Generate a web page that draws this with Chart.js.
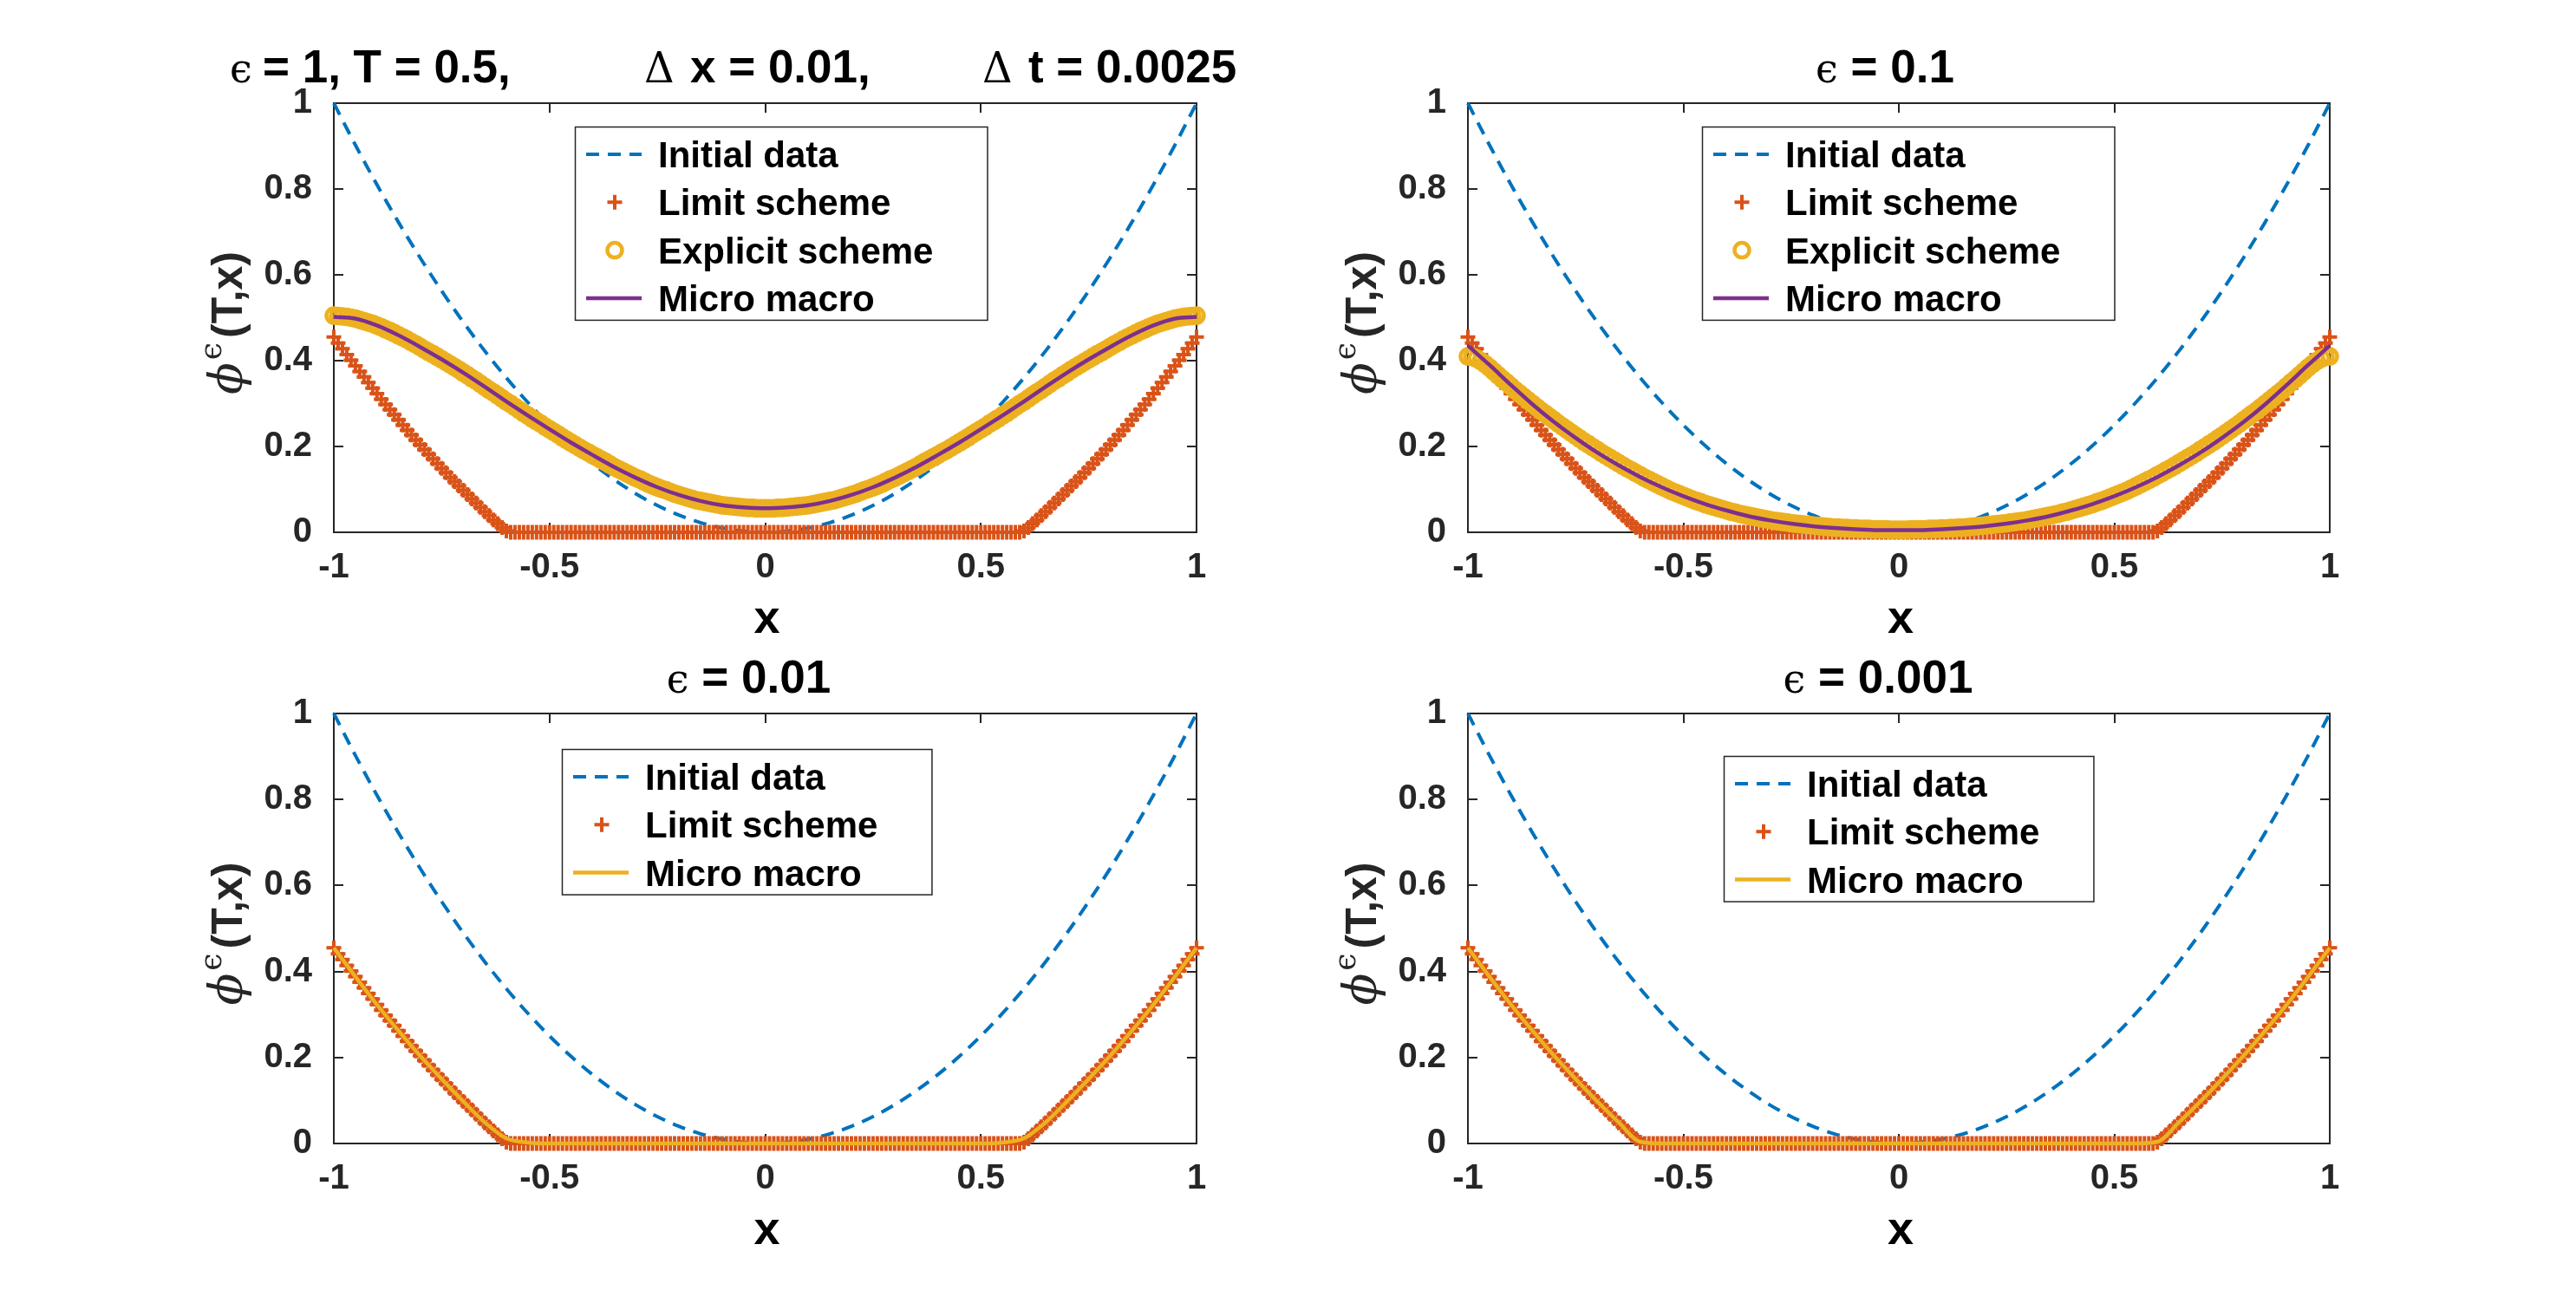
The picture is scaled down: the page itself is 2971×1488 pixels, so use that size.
<!DOCTYPE html>
<html>
<head>
<meta charset="utf-8">
<script src="https://cdn.jsdelivr.net/npm/chart.js@4.4.1/dist/chart.umd.min.js"></script>
<style>
html,body{margin:0;padding:0;background:#fff;}
#page{position:relative;width:2971px;height:1488px;background:#fff;overflow:hidden;}
.cell{position:absolute;}
.cell canvas{display:block;}
</style>
</head>
<body>
<div id="page">
  <div class="cell" style="left:0px;top:0px;"><canvas id="c1" width="1486" height="744" style="width:1486px;height:744px"></canvas></div>
  <div class="cell" style="left:1486px;top:0px;"><canvas id="c2" width="1485" height="744" style="width:1485px;height:744px"></canvas></div>
  <div class="cell" style="left:0px;top:744px;"><canvas id="c3" width="1486" height="744" style="width:1486px;height:744px"></canvas></div>
  <div class="cell" style="left:1486px;top:744px;"><canvas id="c4" width="1485" height="744" style="width:1485px;height:744px"></canvas></div>
</div>
<script>
// ---------------- DATA ----------------
// grid of the scheme outputs (dx = 0.01)
const xMarkers = [
 -1,-0.99,-0.98,-0.97,-0.96,-0.95,-0.94,-0.93,-0.92,-0.91,
 -0.9,-0.89,-0.88,-0.87,-0.86,-0.85,-0.84,-0.83,-0.82,-0.81,
 -0.8,-0.79,-0.78,-0.77,-0.76,-0.75,-0.74,-0.73,-0.72,-0.71,
 -0.7,-0.69,-0.68,-0.67,-0.66,-0.65,-0.64,-0.63,-0.62,-0.61,
 -0.6,-0.59,-0.58,-0.57,-0.56,-0.55,-0.54,-0.53,-0.52,-0.51,
 -0.5,-0.49,-0.48,-0.47,-0.46,-0.45,-0.44,-0.43,-0.42,-0.41,
 -0.4,-0.39,-0.38,-0.37,-0.36,-0.35,-0.34,-0.33,-0.32,-0.31,
 -0.3,-0.29,-0.28,-0.27,-0.26,-0.25,-0.24,-0.23,-0.22,-0.21,
 -0.2,-0.19,-0.18,-0.17,-0.16,-0.15,-0.14,-0.13,-0.12,-0.11,
 -0.1,-0.09,-0.08,-0.07,-0.06,-0.05,-0.04,-0.03,-0.02,-0.01,
 0,
 0.01,0.02,0.03,0.04,0.05,0.06,0.07,0.08,0.09,0.1,
 0.11,0.12,0.13,0.14,0.15,0.16,0.17,0.18,0.19,0.2,
 0.21,0.22,0.23,0.24,0.25,0.26,0.27,0.28,0.29,0.3,
 0.31,0.32,0.33,0.34,0.35,0.36,0.37,0.38,0.39,0.4,
 0.41,0.42,0.43,0.44,0.45,0.46,0.47,0.48,0.49,0.5,
 0.51,0.52,0.53,0.54,0.55,0.56,0.57,0.58,0.59,0.6,
 0.61,0.62,0.63,0.64,0.65,0.66,0.67,0.68,0.69,0.7,
 0.71,0.72,0.73,0.74,0.75,0.76,0.77,0.78,0.79,0.8,
 0.81,0.82,0.83,0.84,0.85,0.86,0.87,0.88,0.89,0.9,
 0.91,0.92,0.93,0.94,0.95,0.96,0.97,0.98,0.99,1
];
// grid used for the continuous curves
const xLine = [
 -1,-0.95,-0.9,-0.85,-0.8,-0.75,-0.7,-0.65,-0.6,-0.55,
 -0.5,-0.45,-0.4,-0.35,-0.3,-0.25,-0.2,-0.15,-0.1,-0.05,
 0,
 0.05,0.1,0.15,0.2,0.25,0.3,0.35,0.4,0.45,0.5,
 0.55,0.6,0.65,0.7,0.75,0.8,0.85,0.9,0.95,1
];
const initialData = [
 1,0.9025,0.81,0.7225,0.64,0.5625,0.49,0.4225,0.36,0.3025,
 0.25,0.2025,0.16,0.1225,0.09,0.0625,0.04,0.0225,0.01,0.0025,
 0,
 0.0025,0.01,0.0225,0.04,0.0625,0.09,0.1225,0.16,0.2025,0.25,
 0.3025,0.36,0.4225,0.49,0.5625,0.64,0.7225,0.81,0.9025,1
];
const limitScheme = [
 0.455,0.441,0.428,0.414,0.401,0.388,0.375,0.362,0.349,0.336,
 0.323,0.310,0.298,0.286,0.274,0.262,0.250,0.238,0.227,0.215,
 0.204,0.193,0.182,0.171,0.160,0.149,0.139,0.128,0.118,0.108,
 0.098,0.088,0.078,0.068,0.058,0.048,0.039,0.029,0.020,0.011,
 0.003,
 0,0,0,0,0,0,0,0,0,
 0,0,0,0,0,0,0,0,0,0,
 0,0,0,0,0,0,0,0,0,0,
 0,0,0,0,0,0,0,0,0,0,
 0,0,0,0,0,0,0,0,0,0,
 0,0,0,0,0,0,0,0,0,0,
 0,0,0,0,0,0,0,0,0,0,
 0,0,0,0,0,0,0,0,0,0,
 0,0,0,0,0,0,0,0,0,0,
 0,0,0,0,0,0,0,0,0,0,
 0,0,0,0,0,0,0,0,0,0,
 0,0,0,0,0,0,0,0,0,0,
 0.003,
 0.011,0.020,0.029,0.039,0.048,0.058,0.068,0.078,0.088,0.098,
 0.108,0.118,0.128,0.139,0.149,0.160,0.171,0.182,0.193,0.204,
 0.215,0.227,0.238,0.250,0.262,0.274,0.286,0.298,0.310,0.323,
 0.336,0.349,0.362,0.375,0.388,0.401,0.414,0.428,0.441,0.455
];
const explicitEps1 = [
 0.505,0.504,0.503,0.502,0.500,0.498,0.495,0.492,0.489,0.486,
 0.482,0.478,0.473,0.469,0.464,0.459,0.454,0.449,0.443,0.438,
 0.432,0.426,0.420,0.415,0.409,0.403,0.397,0.391,0.385,0.379,
 0.372,0.366,0.359,0.353,0.346,0.339,0.332,0.326,0.319,0.312,
 0.305,0.299,0.292,0.285,0.278,0.272,0.265,0.259,0.253,0.246,
 0.240,0.234,0.228,0.221,0.215,0.209,0.203,0.197,0.191,0.186,
 0.180,0.175,0.169,0.164,0.158,0.152,0.147,0.142,0.137,0.132,
 0.127,0.123,0.118,0.113,0.109,0.105,0.101,0.098,0.094,0.090,
 0.087,0.084,0.081,0.078,0.075,0.073,0.071,0.069,0.067,0.065,
 0.063,0.062,0.061,0.060,0.059,0.058,0.057,0.057,0.056,0.056,
 0.056,
 0.056,0.056,0.057,0.057,0.058,0.059,0.060,0.061,0.062,0.063,
 0.065,0.067,0.069,0.071,0.073,0.075,0.078,0.081,0.084,0.087,
 0.090,0.094,0.098,0.101,0.105,0.109,0.113,0.118,0.123,0.127,
 0.132,0.137,0.142,0.147,0.152,0.158,0.164,0.169,0.175,0.180,
 0.186,0.191,0.197,0.203,0.209,0.215,0.221,0.228,0.234,0.240,
 0.246,0.253,0.259,0.265,0.272,0.278,0.285,0.292,0.299,0.305,
 0.312,0.319,0.326,0.332,0.339,0.346,0.353,0.359,0.366,0.372,
 0.379,0.385,0.391,0.397,0.403,0.409,0.415,0.420,0.426,0.432,
 0.438,0.443,0.449,0.454,0.459,0.464,0.469,0.473,0.478,0.482,
 0.486,0.489,0.492,0.495,0.498,0.500,0.502,0.503,0.504,0.505
];
const explicitEps01 = [
 0.410,0.409,0.405,0.399,0.392,0.384,0.375,0.366,0.357,0.349,
 0.340,0.331,0.323,0.315,0.307,0.299,0.291,0.283,0.276,0.268,
 0.261,0.253,0.246,0.239,0.232,0.225,0.218,0.211,0.205,0.198,
 0.192,0.185,0.179,0.173,0.167,0.161,0.155,0.149,0.144,0.138,
 0.133,0.127,0.122,0.117,0.112,0.107,0.102,0.097,0.093,0.089,
 0.085,0.081,0.077,0.073,0.070,0.066,0.063,0.060,0.057,0.054,
 0.051,0.048,0.046,0.043,0.041,0.039,0.037,0.035,0.033,0.031,
 0.029,0.027,0.026,0.024,0.023,0.021,0.020,0.019,0.018,0.017,
 0.016,0.015,0.014,0.013,0.012,0.011,0.011,0.010,0.010,0.009,
 0.009,0.008,0.008,0.008,0.007,0.007,0.007,0.007,0.006,0.006,
 0.006,
 0.006,0.006,0.007,0.007,0.007,0.007,0.008,0.008,0.008,0.009,
 0.009,0.010,0.010,0.011,0.011,0.012,0.013,0.014,0.015,0.016,
 0.017,0.018,0.019,0.020,0.021,0.023,0.024,0.026,0.027,0.029,
 0.031,0.033,0.035,0.037,0.039,0.041,0.043,0.046,0.048,0.051,
 0.054,0.057,0.060,0.063,0.066,0.070,0.073,0.077,0.081,0.085,
 0.089,0.093,0.097,0.102,0.107,0.112,0.117,0.122,0.127,0.133,
 0.138,0.144,0.149,0.155,0.161,0.167,0.173,0.179,0.185,0.192,
 0.198,0.205,0.211,0.218,0.225,0.232,0.239,0.246,0.253,0.261,
 0.268,0.276,0.283,0.291,0.299,0.307,0.315,0.323,0.331,0.340,
 0.349,0.357,0.366,0.375,0.384,0.392,0.399,0.405,0.409,0.410
];
const microMacroEps1 = [
 0.502,0.498,0.482,0.459,0.432,0.403,0.372,0.339,0.305,0.272,
 0.240,0.209,0.180,0.152,0.127,0.105,0.087,0.073,0.063,0.058,
 0.056,
 0.058,0.063,0.073,0.087,0.105,0.127,0.152,0.180,0.209,0.240,
 0.272,0.305,0.339,0.372,0.403,0.432,0.459,0.482,0.498,0.502
];
const microMacroEps01 = [
 0.435,0.390,0.343,0.298,0.257,0.220,0.186,0.156,0.129,0.105,
 0.084,0.066,0.051,0.038,0.028,0.020,0.014,0.010,0.007,0.005,
 0.005,
 0.005,0.007,0.010,0.014,0.020,0.028,0.038,0.051,0.066,0.084,
 0.105,0.129,0.156,0.186,0.220,0.257,0.298,0.343,0.390,0.435
];
const microMacroEps001 = [
 0.455,0.388,0.323,0.262,0.204,0.150,0.098,0.049,0.012,0.002,
 0,0,0,0,0,0,0,0,0,0,
 0,
 0,0,0,0,0,0,0,0,0,0,
 0.002,0.012,0.049,0.098,0.150,0.204,0.262,0.323,0.388,0.455
];
const microMacroEps0001 = [
 0.455,0.388,0.323,0.262,0.204,0.150,0.098,0.049,0.004,0,
 0,0,0,0,0,0,0,0,0,0,
 0,
 0,0,0,0,0,0,0,0,0,0,
 0,0.004,0.049,0.098,0.150,0.204,0.262,0.323,0.388,0.455
];
const seriesNames = ['Initial data','Limit scheme','Explicit scheme','Micro macro'];
const epsLabels = ['1','0.1','0.01','0.001'];
const xAxisLabel = 'x';
const yAxisLabel = ['ϕ','ϵ','(T,x)'];
const firstTitleParts = ['ϵ','= 1, T = 0.5,','Δ','x = 0.01,','Δ','t = 0.0025'];

// ---------------- STYLE ----------------
const SANS = '"Liberation Sans", Arial, Helvetica, sans-serif';
const SERIF = '"DejaVu Serif", "Liberation Serif", serif';
const C_BLUE = '#0072BD', C_ORANGE = '#D95319', C_YELLOW = '#EDB120', C_PURPLE = '#7E2F8E';
const AXIS_COL = '#262626';

function pts(xs, ys){ return xs.map((x,i)=>({x:x, y:ys[i]})); }

function dsInitial(){ return {label:seriesNames[0], data:pts(xLine, initialData), showLine:true,
  borderColor:C_BLUE, backgroundColor:C_BLUE, borderWidth:4, borderDash:[15,10], pointRadius:0,
  cubicInterpolationMode:'monotone', order:4, clip:false}; }
function dsLimit(){ return {label:seriesNames[1], data:pts(xMarkers, limitScheme), showLine:false,
  pointStyle:'cross', pointRadius:8.5, pointBorderWidth:4, borderColor:C_ORANGE, pointBorderColor:C_ORANGE,
  backgroundColor:C_ORANGE, order:3, clip:false}; }
function dsExplicit(vals){ return {label:seriesNames[2], data:pts(xMarkers, vals), showLine:false,
  pointStyle:'circle', pointRadius:8.5, pointBorderWidth:4.5, borderColor:C_YELLOW, pointBorderColor:C_YELLOW,
  pointBackgroundColor:'rgba(0,0,0,0)', backgroundColor:'rgba(0,0,0,0)', order:2, clip:false}; }
function dsMicro(vals, col){ return {label:seriesNames[3], data:pts(xLine, vals), showLine:true,
  borderColor:col, backgroundColor:col, borderWidth:4.5, pointRadius:0,
  cubicInterpolationMode:'monotone', order:1, clip:false}; }

// ---------------- DECORATION PLUGIN (MATLAB-like axes box, ticks, labels, legend) ----------------
function drawRuns(ctx, runs, x, y, align, left){
  const widths = [];
  let total = 0;
  for (let i = 0; i < runs.length; i++){
    const r = runs[i];
    ctx.font = r.font;
    const w = ctx.measureText(r.text).width;
    widths.push(w);
    total += w + (r.gap || 0);
  }
  let cx = align === 'center' ? x - total/2 : x;
  for (let i = 0; i < runs.length; i++){
    const r = runs[i];
    if (r.at !== undefined && r.at !== null) cx = left + r.at;
    ctx.font = r.font;
    ctx.fillText(r.text, cx, y - (r.dy || 0));
    cx += widths[i] + (r.gap || 0);
  }
}

const panelDecor = {}; // per-canvas text config (kept out of Chart.js option proxies)

const matlabDecor = {
  id:'matlabDecor',
  beforeDatasetsDraw(chart){
    const ctx = chart.ctx, a = chart.chartArea;
    const xs = chart.scales.x, ys = chart.scales.y, tl = 11;
    ctx.save();
    ctx.strokeStyle = AXIS_COL; ctx.lineWidth = 2;
    ctx.beginPath();
    xs.ticks.forEach(t => { const p = Math.round(xs.getPixelForValue(t.value));
      ctx.moveTo(p, a.bottom); ctx.lineTo(p, a.bottom - tl); ctx.moveTo(p, a.top); ctx.lineTo(p, a.top + tl); });
    ys.ticks.forEach(t => { const p = Math.round(ys.getPixelForValue(t.value));
      ctx.moveTo(a.left, p); ctx.lineTo(a.left + tl, p); ctx.moveTo(a.right, p); ctx.lineTo(a.right - tl, p); });
    ctx.stroke();
    ctx.strokeRect(a.left, a.top, a.right - a.left, a.bottom - a.top);
    ctx.restore();
  },
  afterDatasetsDraw(chart){
    const o = panelDecor[chart.canvas.id];
    const ctx = chart.ctx, a = chart.chartArea;
    const sets = chart.data.datasets;
    const F = 'bold 42px ' + SANS;
    ctx.save();
    ctx.font = F;
    let maxW = 0; sets.forEach(d => { maxW = Math.max(maxW, ctx.measureText(d.label).width); });
    const L = a.left + o.legendAt[0], T = a.top + o.legendAt[1];
    const W = 96 + maxW + 62, rowH = 55.3, H = 32 + rowH*(sets.length-1) + 25;
    ctx.fillStyle = '#fff'; ctx.fillRect(L, T, W, H);
    ctx.strokeStyle = AXIS_COL; ctx.lineWidth = 1.5; ctx.strokeRect(L+0.5, T+0.5, W, H);
    sets.forEach((d,i) => {
      const cy = T + 32 + rowH*i;
      ctx.save();
      if (d.showLine){
        ctx.strokeStyle = d.borderColor; ctx.lineWidth = d.borderWidth; ctx.setLineDash(d.borderDash||[]);
        ctx.beginPath(); ctx.moveTo(L+13, cy); ctx.lineTo(L+77, cy); ctx.stroke();
      } else if (d.pointStyle === 'cross'){
        ctx.strokeStyle = d.pointBorderColor; ctx.lineWidth = d.pointBorderWidth;
        ctx.beginPath(); ctx.moveTo(L+46-d.pointRadius, cy); ctx.lineTo(L+46+d.pointRadius, cy);
        ctx.moveTo(L+46, cy-d.pointRadius); ctx.lineTo(L+46, cy+d.pointRadius); ctx.stroke();
      } else {
        ctx.strokeStyle = d.pointBorderColor; ctx.lineWidth = d.pointBorderWidth;
        ctx.beginPath(); ctx.arc(L+46, cy, d.pointRadius, 0, Math.PI*2); ctx.stroke();
      }
      ctx.restore();
      ctx.fillStyle = '#000'; ctx.font = F; ctx.textBaseline = 'alphabetic'; ctx.textAlign = 'left';
      ctx.fillText(d.label, L+96, cy + 15);
    });
    ctx.restore();
  },
  afterDraw(chart){
    const o = panelDecor[chart.canvas.id];
    const ctx = chart.ctx, a = chart.chartArea;
    const cx = (a.left + a.right)/2, cyA = (a.top + a.bottom)/2;
    ctx.save();
    ctx.fillStyle = '#000'; ctx.textBaseline = 'alphabetic'; ctx.textAlign = 'left';
    // title
    drawRuns(ctx, o.title, cx + o.titleShift, a.top - 24, 'center', a.left);
    // x label
    ctx.font = 'bold 54px ' + SANS; ctx.textAlign = 'center';
    ctx.fillText(xAxisLabel, cx + 2, a.bottom + 116);
    ctx.textAlign = 'left';
    // y label (rotated)
    ctx.translate(a.left - 106, cyA + 6);
    ctx.rotate(-Math.PI/2);
    ctx.fillStyle = AXIS_COL;
    drawRuns(ctx, [
      {text:yAxisLabel[0], font:'italic 54px ' + SERIF, gap:3},
      {text:yAxisLabel[1], font:'36px ' + SERIF, dy:24, gap:5},
      {text:yAxisLabel[2], font:'bold 50px ' + SANS}
    ], 0, 0, 'center', 0);
    ctx.restore();
  }
};

function epsTitle(v){ return [
  {text:'ϵ', font:'46px ' + SERIF},
  {text:' = ' + v, font:'bold 53px ' + SANS}
]; }
const titleTL = [
  {text:firstTitleParts[0], font:'46px ' + SERIF, at:-120},
  {text:firstTitleParts[1], font:'bold 53px ' + SANS, at:-82},
  {text:firstTitleParts[2], font:'48px ' + SERIF, at:358},
  {text:firstTitleParts[3], font:'bold 53px ' + SANS, at:411},
  {text:firstTitleParts[4], font:'48px ' + SERIF, at:748},
  {text:firstTitleParts[5], font:'bold 53px ' + SANS, at:801}
];

const panels = [
  {canvas:'c1', title:titleTL, titleShift:0, legendAt:[278,27], padding:{left:305,right:106,top:119,bottom:70},
   sets:[dsInitial(), dsLimit(), dsExplicit(explicitEps1), dsMicro(microMacroEps1, C_PURPLE)]},
  {canvas:'c2', title:epsTitle(epsLabels[1]), titleShift:-16, legendAt:[270,27], padding:{left:127,right:284,top:119,bottom:70},
   sets:[dsInitial(), dsLimit(), dsExplicit(explicitEps01), dsMicro(microMacroEps01, C_PURPLE)]},
  {canvas:'c3', title:epsTitle(epsLabels[2]), titleShift:-19, legendAt:[263,41], padding:{left:305,right:106,top:79,bottom:109},
   sets:[dsInitial(), dsLimit(), dsMicro(microMacroEps001, C_YELLOW)]},
  {canvas:'c4', title:epsTitle(epsLabels[3]), titleShift:-24, legendAt:[295,49], padding:{left:127,right:284,top:79,bottom:109},
   sets:[dsInitial(), dsLimit(), dsMicro(microMacroEps0001, C_YELLOW)]}
];

const tickFont = {family:SANS, weight:'bold', size:40};
const fmtTick = v => String(Number(Number(v).toFixed(2)));
panels.forEach(p => {
  panelDecor[p.canvas] = {title:p.title, titleShift:p.titleShift, legendAt:p.legendAt};
  new Chart(document.getElementById(p.canvas), {
    type:'scatter',
    data:{datasets:p.sets},
    options:{
      responsive:false, animation:false, events:[],
      layout:{padding:p.padding},
      plugins:{ legend:{display:false}, tooltip:{enabled:false}, title:{display:false} },
      scales:{
        x:{type:'linear', min:-1, max:1, grid:{display:false}, border:{display:false},
           ticks:{stepSize:0.5, color:AXIS_COL, font:tickFont, padding:9, maxRotation:0, autoSkip:false, callback:fmtTick},
           afterFit:s => { s.height = 60; }},
        y:{type:'linear', min:0, max:1, grid:{display:false}, border:{display:false},
           ticks:{stepSize:0.2, color:AXIS_COL, font:tickFont, padding:17, autoSkip:false, callback:fmtTick},
           afterFit:s => { s.width = 80; }}
      }
    },
    plugins:[matlabDecor]
  });
});
</script>
</body>
</html>
